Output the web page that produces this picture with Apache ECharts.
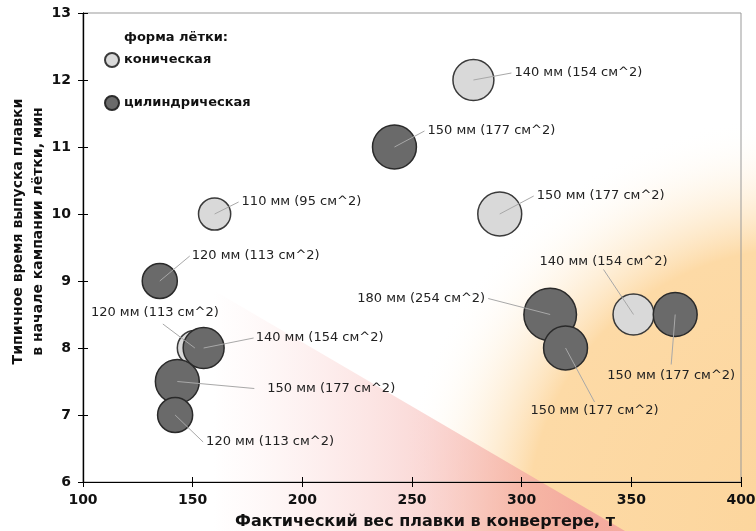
<!DOCTYPE html>
<html>
<head>
<meta charset="utf-8">
<script src="https://cdn.jsdelivr.net/npm/echarts@6/dist/echarts.min.js"></script>
<style>
html,body{margin:0;padding:0;background:#fff;}
#c{width:756px;height:531px;}
</style>
</head>
<body>
<div id="c"></div>
<script>
// ---- data ----
var xTicks = [100, 150, 200, 250, 300, 350, 400];
var yTicks = [6, 7, 8, 9, 10, 11, 12, 13];
var seriesNames = ['коническая', 'цилиндрическая'];
var legendTitle = 'форма лётки:';
var xTitle = 'Фактический вес плавки в конвертере, т';
var yTitle = 'Типичное время выпуска плавки\nв начале кампании лётки, мин';

var conicalWeight = [278, 160, 290, 151, 351];
var conicalTime   = [12, 10, 10, 8, 8.5];
var conicalDiam   = [140, 110, 150, 120, 140];
var conicalArea   = [154, 95, 177, 113, 154];

var cylWeight = [242, 135, 155, 143, 142, 313, 320, 370];
var cylTime   = [11, 9, 8, 7.5, 7, 8.5, 8, 8.5];
var cylDiam   = [150, 120, 140, 150, 120, 180, 150, 150];
var cylArea   = [177, 113, 154, 177, 113, 254, 177, 177];

// ---- label placement (pixels, relative to bubble centre) ----
// [lineEndDx, lineEndDy, textDx, textDy, align]
var conicalLabelPos = [
  [38, -7, 41, -7, 'left'],
  [24, -12, 27, -12, 'left'],
  [34, -18, 37, -18, 'left'],
  [-32, -24, -40, -35, 'center'],
  [-30, -45, -30, -53, 'center']
];
var cylLabelPos = [
  [30, -16, 33, -16, 'left'],
  [30, -25, 32, -25, 'left'],
  [50, -10, 52, -10, 'left'],
  [77, 7, 90, 7, 'left'],
  [28, 27, 31, 27, 'left'],
  [-62, -16, -65, -16, 'right'],
  [29, 54, 29, 63, 'center'],
  [-4, 50, -4, 61, 'center']
];

function sizeOf(area) { return 3.3 * Math.sqrt(area); }

var conicalData = conicalWeight.map(function (w, i) { return [w, conicalTime[i], conicalArea[i]]; });
var cylData = cylWeight.map(function (w, i) { return [w, cylTime[i], cylArea[i]]; });

var labelData = [], labelCfg = [];
conicalWeight.forEach(function (w, i) {
  labelData.push([w, conicalTime[i]]);
  labelCfg.push({ text: conicalDiam[i] + ' мм (' + conicalArea[i] + ' см^2)', pos: conicalLabelPos[i] });
});
cylWeight.forEach(function (w, i) {
  labelData.push([w, cylTime[i]]);
  labelCfg.push({ text: cylDiam[i] + ' мм (' + cylArea[i] + ' см^2)', pos: cylLabelPos[i] });
});

var FONT = '"DejaVu Sans", Verdana, sans-serif';

var chart = echarts.init(document.getElementById('c'), null, { renderer: 'canvas' });

var axisCommon = {
  axisLine: { show: true, onZero: false, lineStyle: { color: '#000', width: 1.2 } },
  splitLine: { show: false }
};

chart.setOption({
  backgroundColor: '#fff',
  animation: false,
  graphic: [
    {
      type: 'rect', z: -10, silent: true,
      shape: { x: 0, y: 0, width: 756, height: 531 },
      style: {
        fill: {
          type: 'radial', x: 800, y: 520, r: 405, global: true,
          colorStops: [
            { offset: 0, color: '#fcd59c' },
            { offset: 0.67, color: '#fddaa6' },
            { offset: 1, color: 'rgba(255,255,255,0)' }
          ]
        }
      }
    },
    {
      type: 'polygon', z: -9, silent: true,
      shape: { points: [[213, 290], [625, 531], [213, 531]] },
      style: {
        fill: {
          type: 'linear', x: 213, y: 0, x2: 580, y2: 0, global: true,
          colorStops: [
            { offset: 0, color: 'rgba(250,200,200,0)' },
            { offset: 1, color: 'rgba(243,165,158,0.88)' }
          ]
        }
      }
    }
  ],
  title: {
    text: legendTitle, left: 124, top: 31, padding: 0,
    textStyle: { fontFamily: FONT, fontWeight: 'bold', fontSize: 13, color: '#111' }
  },
  legend: {
    data: seriesNames, orient: 'vertical', left: 104, top: 52, padding: 0,
    itemWidth: 14, itemHeight: 14, itemGap: 27, icon: 'circle',
    textStyle: { fontFamily: FONT, fontWeight: 'bold', fontSize: 13, color: '#111' }
  },
  grid: {
    left: 83, right: 15, top: 13, bottom: 49, show: true,
    outerBoundsMode: 'none', containLabel: false,
    borderColor: '#999', borderWidth: 1, backgroundColor: 'transparent'
  },
  xAxis: [
    Object.assign({
      type: 'value', min: xTicks[0], max: xTicks[xTicks.length - 1], interval: 50,
      name: xTitle, nameLocation: 'middle', nameGap: 32, nameMoveOverlap: false,
      nameTextStyle: { fontFamily: FONT, fontWeight: 'bold', fontSize: 16, color: '#111', padding: [0, 0, 0, 26] },
      axisTick: { show: true, length: 5, lineStyle: { color: '#000' } },
      axisLabel: { margin: 11, fontFamily: FONT, fontWeight: 'bold', fontSize: 14, color: '#111' }
    }, axisCommon),
    Object.assign({
      type: 'value', min: xTicks[0], max: xTicks[xTicks.length - 1], interval: 50, position: 'bottom',
      axisTick: { show: true, inside: true, length: 5, lineStyle: { color: '#000' } },
      axisLabel: { show: false }
    }, axisCommon)
  ],
  yAxis: [
    Object.assign({
      type: 'value', min: yTicks[0], max: yTicks[yTicks.length - 1], interval: 1,
      name: yTitle, nameLocation: 'middle', nameGap: 35, nameRotate: 90, nameMoveOverlap: false,
      nameTextStyle: { fontFamily: FONT, fontWeight: 'bold', fontSize: 14, color: '#111', lineHeight: 20, padding: [0, 0, 0, 32] },
      axisTick: { show: true, length: 5, lineStyle: { color: '#000' } },
      axisLabel: { margin: 12, fontFamily: FONT, fontWeight: 'bold', fontSize: 14, color: '#111' }
    }, axisCommon),
    Object.assign({
      type: 'value', min: yTicks[0], max: yTicks[yTicks.length - 1], interval: 1, position: 'left',
      axisTick: { show: true, inside: true, length: 5, lineStyle: { color: '#000' } },
      axisLabel: { show: false }
    }, axisCommon)
  ],
  series: [
    {
      name: seriesNames[0], type: 'scatter', data: conicalData, z: 3,
      symbolSize: function (v) { return sizeOf(v[2]); },
      itemStyle: { color: '#d9d9d9', borderColor: '#3a3a3a', borderWidth: 1.5, opacity: 1 },
      emphasis: { disabled: true }
    },
    {
      name: seriesNames[1], type: 'scatter', data: cylData, z: 4,
      symbolSize: function (v) { return sizeOf(v[2]); },
      itemStyle: { color: '#6a6a6a', borderColor: '#2a2a2a', borderWidth: 1.5, opacity: 1 },
      emphasis: { disabled: true }
    },
    {
      type: 'custom', z: 10, silent: true, data: labelData,
      renderItem: function (params, api) {
        var p = api.coord([api.value(0), api.value(1)]);
        var cfg = labelCfg[params.dataIndex];
        var o = cfg.pos;
        return {
          type: 'group',
          children: [
            {
              type: 'line',
              shape: { x1: p[0], y1: p[1], x2: p[0] + o[0], y2: p[1] + o[1] },
              style: { stroke: '#a8a8a8', lineWidth: 1 }
            },
            {
              type: 'text',
              style: {
                x: p[0] + o[2], y: p[1] + o[3], text: cfg.text,
                textAlign: o[4], textVerticalAlign: 'middle',
                font: '13px ' + FONT, fill: '#222'
              }
            }
          ]
        };
      }
    }
  ]
});
</script>
</body>
</html>
